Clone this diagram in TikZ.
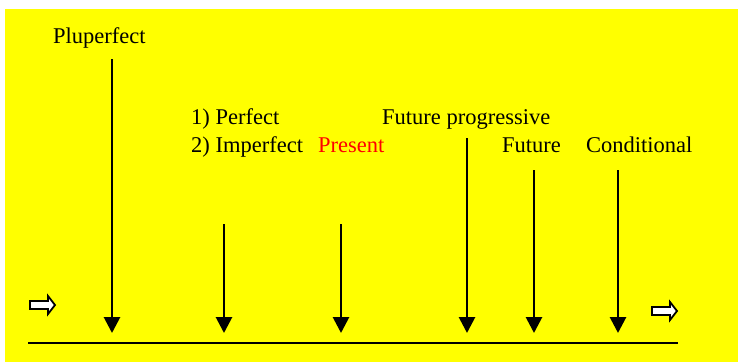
\documentclass[tikz,border=0pt]{standalone}
\usepackage{fontspec}
\setmainfont{Liberation Serif}
\usepackage{tikz}
\usetikzlibrary{arrows.meta,positioning}
\definecolor{bgyellow}{RGB}{255,255,0}
\tikzset{
  tense label/.style={font=\fontsize{22.5}{27}\selectfont,inner sep=0pt,anchor=base west},
  time arrow/.style={line width=2.8pt,-{Triangle[width=16pt,length=16pt]}},
  time line/.style={line width=2.8pt},
  hollow arrow/.style={draw=black,fill=white,line width=1.8pt,line join=miter}
}
\newcommand{\HollowArrow}[1]{\draw[hollow arrow,shift={(#1)}]
  (0,-4) -- (18,-4) -- (18,-9) -- (25,0) -- (18,9) -- (18,4) -- (0,4) -- cycle;}

\begin{document}
\begin{tikzpicture}[x=1pt,y=-1pt]
  \useasboundingbox (0,0) rectangle (738,362);
  \fill[bgyellow] (5,9) rectangle (738,362);

  \node[tense label] (plup) at (53,43) {Pluperfect};
  \node[tense label] (perf) at (191,124) {1) Perfect};
  \node[tense label] (imperf) at (191,152) {2) Imperfect};
  \node[tense label,text=red] (pres) at (318,152) {Present};
  \node[tense label] (futprog) at (382,124) {Future progressive};
  \node[tense label] (fut) at (502,152) {Future};
  \node[tense label] (cond) at (586,152) {Conditional};

  \coordinate (a1) at (112,59);
  \coordinate (a2) at (224,224);
  \coordinate (a3) at (341,224);
  \coordinate (a4) at (467,138);
  \coordinate (a5) at (534,170);
  \coordinate (a6) at (618,170);
  \coordinate (lstart) at (28,343);
  \coordinate (lend) at (678,343);

  \draw[time line] (lstart) -- (lend);
  \foreach \p in {a1,a2,a3,a4,a5,a6} {\draw[time arrow] (\p) -- (\p |- 0,333);}

  \HollowArrow{30,305}
  \HollowArrow{652,311}
\end{tikzpicture}
\end{document}
